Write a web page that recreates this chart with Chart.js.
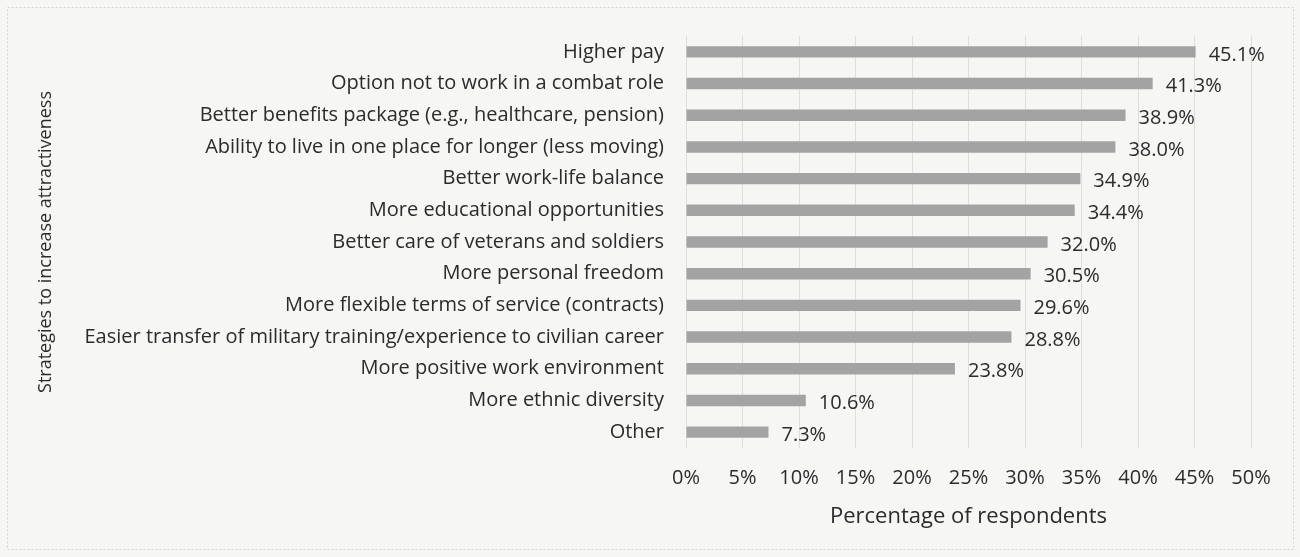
<!DOCTYPE html>
<html>
<head>
<meta charset="utf-8">
<script src="https://cdn.jsdelivr.net/npm/chart.js@4/dist/chart.umd.min.js"></script>
<style>
  html, body { margin: 0; padding: 0; background: #f6f6f5; }
  #wrap { width: 1300px; height: 557px; position: relative; }
</style>
</head>
<body>
<div id="wrap"><canvas id="chart" width="1300" height="557"></canvas></div>
<script>
// Survey results: strategies to make military service more attractive
const categories = [
  'Higher pay',
  'Option not to work in a combat role',
  'Better benefits package (e.g., healthcare, pension)',
  'Ability to live in one place for longer (less moving)',
  'Better work-life balance',
  'More educational opportunities',
  'Better care of veterans and soldiers',
  'More personal freedom',
  'More flexible terms of service (contracts)',
  'Easier transfer of military training/experience to civilian career',
  'More positive work environment',
  'More ethnic diversity',
  'Other'
];
const shareOfRespondents = [45.1, 41.3, 38.9, 38.0, 34.9, 34.4, 32.0, 30.5, 29.6, 28.8, 23.8, 10.6, 7.3];
const xTickValues = [0, 5, 10, 15, 20, 25, 30, 35, 40, 45, 50];

const FONT = '"Open Sans", "Noto Sans", sans-serif';
const TEXT = '#2b2b2b';

// Page background and thin frame around the chart
const frame = {
  id: 'frame',
  beforeDraw(chart) {
    const ctx = chart.ctx;
    ctx.save();
    ctx.fillStyle = '#f6f6f5';
    ctx.fillRect(0, 0, chart.width, chart.height);
    ctx.strokeStyle = '#d4d4d4';
    ctx.lineWidth = 1;
    ctx.setLineDash([2, 2]);
    ctx.strokeRect(7.5, 7.5, chart.width - 14, chart.height - 15);
    ctx.restore();
  }
};

// Percentage printed after the end of each bar
const valueLabels = {
  id: 'valueLabels',
  afterDatasetsDraw(chart) {
    const ctx = chart.ctx;
    const meta = chart.getDatasetMeta(0);
    const data = chart.data.datasets[0].data;
    ctx.save();
    ctx.font = '20px ' + FONT;
    ctx.fillStyle = TEXT;
    ctx.textAlign = 'left';
    ctx.textBaseline = 'middle';
    meta.data.forEach((bar, i) => {
      ctx.fillText(data[i].toFixed(1) + '%', bar.x + 13, bar.y + 3);
    });
    ctx.restore();
  }
};

new Chart(document.getElementById('chart'), {
  type: 'bar',
  data: {
    labels: categories,
    datasets: [{
      data: shareOfRespondents,
      backgroundColor: '#a3a3a3',
      borderWidth: 0,
      categoryPercentage: 0.8,
      barPercentage: 0.45
    }]
  },
  options: {
    indexAxis: 'y',
    responsive: false,
    animation: false,
    devicePixelRatio: 1,
    layout: { padding: { top: 36, left: 28, right: 49, bottom: 0 } },
    plugins: {
      legend: { display: false },
      tooltip: { enabled: false }
    },
    scales: {
      x: {
        min: 0,
        max: 50,
        afterFit(scale) { scale.height = 109; },
        afterBuildTicks(scale) { scale.ticks = xTickValues.map(v => ({ value: v })); },
        grid: { color: '#dedede', lineWidth: 1, drawTicks: false },
        border: { display: false },
        ticks: {
          padding: 18,
          color: TEXT,
          font: { family: FONT, size: 20 },
          callback: v => v + '%'
        },
        title: {
          display: true,
          text: 'Percentage of respondents',
          color: TEXT,
          font: { family: FONT, size: 22 },
          padding: { top: 0, bottom: 27 }
        }
      },
      y: {
        afterFit(scale) { scale.width = 658; },
        grid: { display: false, drawTicks: false },
        border: { display: false },
        ticks: {
          padding: 22,
          color: TEXT,
          font: { family: FONT, size: 20 }
        },
        title: {
          display: true,
          text: 'Strategies to increase attractiveness',
          color: TEXT,
          font: { family: FONT, size: 18 },
          padding: { top: 7, bottom: 0 }
        }
      }
    }
  },
  plugins: [frame, valueLabels]
});
</script>
</body>
</html>
